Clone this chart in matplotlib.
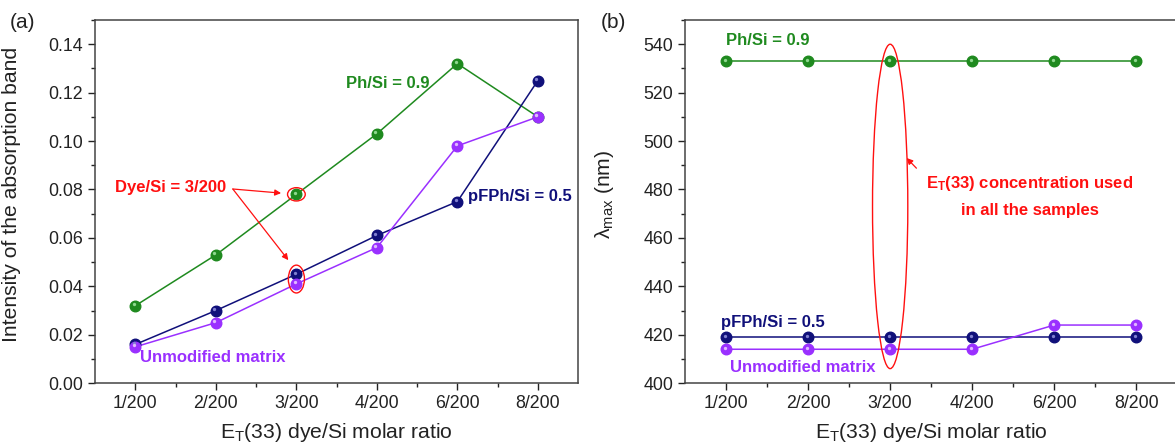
import matplotlib
matplotlib.use("Agg")
import matplotlib.pyplot as plt
from matplotlib.patches import Ellipse
from matplotlib.ticker import MultipleLocator, FixedLocator, FormatStrFormatter
import matplotlib.transforms as mtransforms

plt.rcParams['font.family'] = ['Liberation Sans', 'DejaVu Sans']
plt.rcParams['mathtext.fontset'] = 'custom'
plt.rcParams['mathtext.rm'] = 'Liberation Sans'
plt.rcParams['mathtext.it'] = 'Liberation Sans:italic'
plt.rcParams['mathtext.bf'] = 'Liberation Sans:bold'

# molar ratio categories
ratios = ['1/200', '2/200', '3/200', '4/200', '6/200', '8/200']
pos = list(range(1, len(ratios) + 1))

# (a) absorption band intensity
int_ph = [0.032, 0.053, 0.078, 0.103, 0.132, 0.110]
int_pfph = [0.016, 0.030, 0.045, 0.061, 0.075, 0.125]
int_unmod = [0.015, 0.025, 0.041, 0.056, 0.098, 0.110]

# (b) wavelength of maximum absorption (nm)
lam_ph = [533, 533, 533, 533, 533, 533]
lam_pfph = [419, 419, 419, 419, 419, 419]
lam_unmod = [414, 414, 414, 414, 424, 424]

GREEN = '#1f8a1f'
NAVY = '#10107a'
PURPLE = '#9a30ff'
LIGHT = {GREEN: '#8fd88f', NAVY: '#8080d0', PURPLE: '#e0b8ff'}
RED = '#ff1010'
INK = '#222222'


def sphere_line(ax, y, color):
    ax.plot(pos, y, '-', color=color, lw=1.1, zorder=2)
    ax.plot(pos, y, 'o', color=color, ms=7.6, mec=color, zorder=3)
    # little highlight so the dots look like shaded balls
    shift = mtransforms.offset_copy(ax.transData, fig=ax.figure, x=-1.1, y=1.1, units='points')
    ax.plot(pos, y, 'o', color=LIGHT[color], ms=2.4, mec='none', transform=shift, zorder=4)


def style_axis(ax):
    ax.set_xlim(0.5, 6.5)
    ax.set_xticks(pos)
    ax.set_xticklabels(ratios)
    ax.xaxis.set_minor_locator(FixedLocator([p + 0.5 for p in pos[:-1]]))
    ax.tick_params(which='major', direction='out', length=5, width=1, labelsize=12.8, colors=INK)
    ax.tick_params(which='minor', direction='out', length=3, width=1, colors=INK)
    for s in ax.spines.values():
        s.set_linewidth(1.1)
        s.set_color('#444444')
    ax.set_xlabel(r'E$_\mathregular{T}$(33) dye/Si molar ratio', fontsize=15.2, color=INK, labelpad=6.5)


fig = plt.figure(figsize=(11.75, 4.45), dpi=100)
ax1 = fig.add_axes([0.081, 0.139, 0.411, 0.816])
ax2 = fig.add_axes([0.583, 0.139, 0.419, 0.816])

bold = dict(fontweight='bold', fontsize=12, va='center')
arrow = dict(arrowstyle='-|>', color=RED, lw=0.9, mutation_scale=9, shrinkA=0, shrinkB=0)

# ---- (a) ----
sphere_line(ax1, int_ph, GREEN)
sphere_line(ax1, int_pfph, NAVY)
sphere_line(ax1, int_unmod, PURPLE)
style_axis(ax1)
ax1.set_ylim(0, 0.15)
ax1.yaxis.set_major_locator(MultipleLocator(0.02))
ax1.yaxis.set_minor_locator(MultipleLocator(0.01))
ax1.yaxis.set_major_formatter(FormatStrFormatter('%.2f'))
ax1.set_ylabel('Intensity of the absorption band', fontsize=15.2, color=INK)
ax1.yaxis.set_label_coords(-0.153, 0.52)

ax1.text(3.62, 0.1236, 'Ph/Si = 0.9', color=GREEN, **bold)
ax1.text(5.13, 0.0773, 'pFPh/Si = 0.5', color=NAVY, **bold)
ax1.text(1.06, 0.0107, 'Unmodified matrix', color=PURPLE, **bold)
ax1.text(0.75, 0.081, 'Dye/Si = 3/200', color=RED, **bold)

ax1.add_patch(Ellipse((3, int_ph[2]), 0.22, 0.0055, fill=False, ec=RED, lw=1.0, zorder=5))
ax1.add_patch(Ellipse((3, (int_pfph[2] + int_unmod[2]) / 2), 0.2, 0.0115, fill=False, ec=RED, lw=1.0, zorder=5))
ax1.annotate('', xy=(2.81, 0.0785), xytext=(2.21, 0.0802), arrowprops=arrow)
ax1.annotate('', xy=(2.9, 0.0508), xytext=(2.21, 0.0802), arrowprops=arrow)

# ---- (b) ----
sphere_line(ax2, lam_ph, GREEN)
sphere_line(ax2, lam_pfph, NAVY)
sphere_line(ax2, lam_unmod, PURPLE)
style_axis(ax2)
ax2.set_ylim(400, 550)
ax2.yaxis.set_major_locator(MultipleLocator(20))
ax2.yaxis.set_minor_locator(MultipleLocator(10))
ax2.set_ylabel('λ$_\\mathregular{max}$ (nm)', fontsize=15.2, color=INK)
ax2.yaxis.set_label_coords(-0.14, 0.52)

ax2.text(1.0, 541.7, 'Ph/Si = 0.9', color=GREEN, **bold)
ax2.text(0.94, 425.2, 'pFPh/Si = 0.5', color=NAVY, **bold)
ax2.text(1.05, 406.6, 'Unmodified matrix', color=PURPLE, **bold)
ax2.add_patch(Ellipse((3, 473), 0.43, 134, fill=False, ec=RED, lw=1.0, zorder=5))
ax2.annotate('', xy=(3.2, 493), xytext=(3.32, 488.8), arrowprops=arrow)
ax2.text(4.7, 482.6, r'E$_\mathregular{T}$(33) concentration used', color=RED, ha='center', **bold)
ax2.text(4.7, 471.5, 'in all the samples', color=RED, ha='center', **bold)

fig.text(0.008, 0.95, '(a)', fontsize=15, color=INK, va='center')
fig.text(0.511, 0.95, '(b)', fontsize=15, color=INK, va='center')

fig.savefig('out.png', dpi=100)
